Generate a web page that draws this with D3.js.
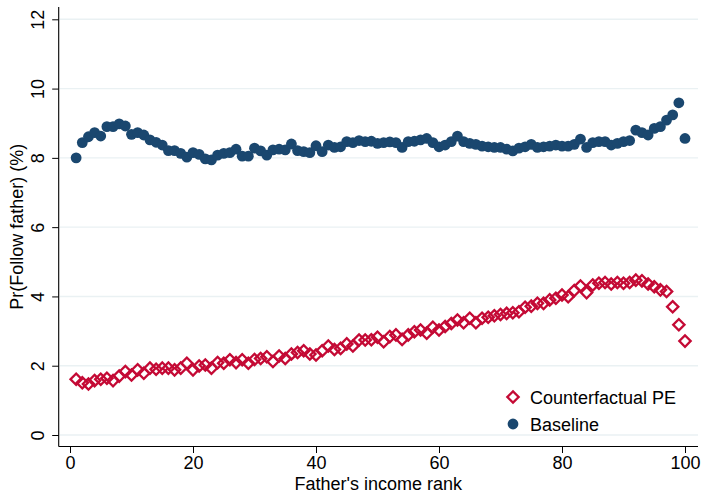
<!DOCTYPE html>
<html>
<head>
<meta charset="utf-8">
<script src="https://cdn.jsdelivr.net/npm/d3@7"></script>
<style>
  html, body { margin: 0; padding: 0; background: #ffffff; }
  svg { display: block; font-family: "Liberation Sans", Arial, sans-serif; }
</style>
</head>
<body>
<svg id="chart" width="703" height="494"></svg>
<script>
// Father's income rank (percentiles 1..100)
const ranks = d3.range(1, 101);

// Baseline probability of following father (%)
const baseline = [
  8.00, 8.44, 8.61, 8.73, 8.63, 8.90, 8.90, 8.98, 8.92, 8.68,
  8.73, 8.66, 8.52, 8.45, 8.37, 8.21, 8.21, 8.13, 8.02, 8.15,
  8.10, 7.97, 7.94, 8.08, 8.13, 8.15, 8.25, 8.05, 8.05, 8.28,
  8.20, 8.08, 8.23, 8.25, 8.23, 8.40, 8.21, 8.18, 8.15, 8.35,
  8.18, 8.37, 8.30, 8.32, 8.47, 8.44, 8.50, 8.47, 8.48, 8.42,
  8.44, 8.46, 8.44, 8.30, 8.47, 8.48, 8.52, 8.56, 8.44, 8.32,
  8.37, 8.47, 8.63, 8.47, 8.42, 8.39, 8.34, 8.32, 8.30, 8.30,
  8.25, 8.20, 8.28, 8.32, 8.39, 8.30, 8.32, 8.34, 8.37, 8.34,
  8.34, 8.39, 8.54, 8.30, 8.44, 8.47, 8.47, 8.37, 8.42, 8.47,
  8.50, 8.80, 8.73, 8.66, 8.85, 8.90, 9.09, 9.24, 9.59, 8.56
];

// Counterfactual PE probability of following father (%)
const counterfactual = [
  1.61, 1.51, 1.47, 1.57, 1.61, 1.64, 1.57, 1.70, 1.83, 1.73,
  1.88, 1.78, 1.93, 1.90, 1.93, 1.93, 1.88, 1.93, 2.07, 1.88,
  1.99, 2.02, 1.93, 2.09, 2.07, 2.17, 2.09, 2.17, 2.07, 2.18,
  2.21, 2.26, 2.12, 2.28, 2.21, 2.34, 2.38, 2.43, 2.34, 2.31,
  2.43, 2.57, 2.47, 2.50, 2.63, 2.57, 2.74, 2.74, 2.75, 2.82,
  2.69, 2.84, 2.89, 2.76, 2.89, 2.98, 3.03, 2.94, 3.11, 3.03,
  3.13, 3.22, 3.32, 3.24, 3.37, 3.24, 3.37, 3.40, 3.44, 3.48,
  3.51, 3.53, 3.56, 3.69, 3.72, 3.80, 3.80, 3.90, 3.95, 4.04,
  3.99, 4.17, 4.30, 4.11, 4.33, 4.38, 4.40, 4.36, 4.40, 4.38,
  4.40, 4.47, 4.45, 4.36, 4.28, 4.19, 4.14, 3.70, 3.18, 2.71
];

const xTicks = [0, 20, 40, 60, 80, 100];
const yTicks = [0, 2, 4, 6, 8, 10, 12];

const legendLabels = ["Counterfactual PE", "Baseline"];
const navy = "#1a476f";
const crimson = "#c40a35";
const fontSize = 18;

const svg = d3.select("#chart");

const x = d3.scaleLinear().domain([0, 100]).range([70, 685]);
const y = d3.scaleLinear().domain([0, 12]).range([435, 19.3]);

// plot frame extents (slightly beyond the tick range)
const frameLeft = 58.7, frameRight = 698, frameTop = 7, frameBottom = 446.5;

// horizontal grid lines
svg.append("g")
  .selectAll("line")
  .data(yTicks)
  .join("line")
  .attr("x1", frameLeft + 1)
  .attr("x2", frameRight)
  .attr("y1", d => y(d))
  .attr("y2", d => y(d))
  .attr("stroke", "#eaf1f3")
  .attr("stroke-width", 1.4);

// y axis
const yAxis = svg.append("g")
  .attr("transform", `translate(${frameLeft},0)`)
  .call(d3.axisLeft(y).tickValues(yTicks).tickSize(6.5).tickSizeOuter(0).tickFormat(d3.format("d")));
yAxis.select(".domain").remove();
yAxis.selectAll(".tick line").attr("stroke", "#000").attr("stroke-width", 1);
yAxis.selectAll(".tick text")
  .attr("font-size", fontSize)
  .attr("fill", "#000")
  .attr("text-anchor", "middle")
  .attr("x", null).attr("dy", null)
  .attr("transform", "translate(-15,0) rotate(-90)");

// x axis
const xAxis = svg.append("g")
  .attr("transform", `translate(0,${frameBottom})`)
  .call(d3.axisBottom(x).tickValues(xTicks).tickSize(6.5).tickSizeOuter(0).tickFormat(d3.format("d")));
xAxis.select(".domain").remove();
xAxis.selectAll(".tick line").attr("stroke", "#000").attr("stroke-width", 1);
xAxis.selectAll(".tick text")
  .attr("font-size", fontSize)
  .attr("fill", "#000")
  .attr("y", 22.5)
  .attr("dy", null);

// axis lines
svg.append("line")
  .attr("x1", frameLeft).attr("x2", frameLeft)
  .attr("y1", frameTop).attr("y2", frameBottom)
  .attr("stroke", "#000").attr("stroke-width", 1.1);
svg.append("line")
  .attr("x1", frameLeft).attr("x2", frameRight)
  .attr("y1", frameBottom).attr("y2", frameBottom)
  .attr("stroke", "#000").attr("stroke-width", 1.1);

// axis titles
svg.append("text")
  .attr("x", (frameLeft + frameRight) / 2)
  .attr("y", 490)
  .attr("text-anchor", "middle")
  .attr("font-size", fontSize)
  .text("Father's income rank");

svg.append("text")
  .attr("transform", `translate(23,${(frameTop + frameBottom) / 2}) rotate(-90)`)
  .attr("text-anchor", "middle")
  .attr("font-size", fontSize)
  .text("Pr(Follow father) (%)");

const diamond = d3.symbol().type(d3.symbolSquare).size(64);

// baseline series: filled circles
svg.append("g")
  .selectAll("circle")
  .data(ranks)
  .join("circle")
  .attr("cx", (d, i) => x(d))
  .attr("cy", (d, i) => y(baseline[i]))
  .attr("r", 5.4)
  .attr("fill", navy);

// counterfactual series: hollow diamonds
svg.append("g")
  .selectAll("path")
  .data(ranks)
  .join("path")
  .attr("d", diamond)
  .attr("transform", (d, i) => `translate(${x(d)},${y(counterfactual[i])}) rotate(45)`)
  .attr("fill", "none")
  .attr("stroke", crimson)
  .attr("stroke-width", 2.3);

// legend
const legend = svg.append("g");
legend.append("path")
  .attr("d", diamond)
  .attr("transform", "translate(513,397) rotate(45)")
  .attr("fill", "none")
  .attr("stroke", crimson)
  .attr("stroke-width", 2.3);
legend.append("circle")
  .attr("cx", 513).attr("cy", 424).attr("r", 5.4)
  .attr("fill", navy);
legend.selectAll("text")
  .data(legendLabels)
  .join("text")
  .attr("x", 530)
  .attr("y", (d, i) => 403.5 + i * 27)
  .attr("font-size", fontSize)
  .text(d => d);
</script>
</body>
</html>
